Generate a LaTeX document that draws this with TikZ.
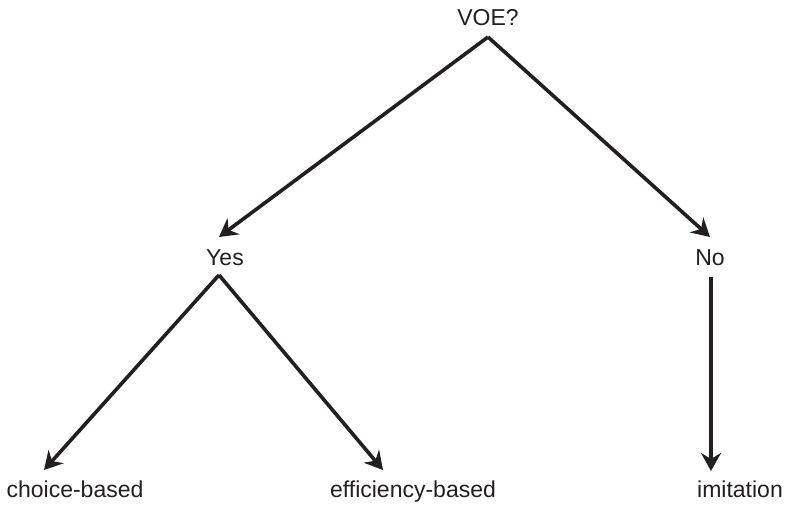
\documentclass[tikz,border=0pt]{standalone}
\usepackage{fontspec}
\setmainfont{Liberation Sans}
\usetikzlibrary{arrows.meta}
\definecolor{ink}{HTML}{231F20}
\begin{document}
\begin{tikzpicture}[x=1pt,y=-1pt,
  lbl/.style={anchor=base,inner sep=0pt,text=ink,font=\fontsize{23}{27}\selectfont},
  conn/.style={draw=ink,line width=3.6pt,-{Stealth[length=18pt,width=20pt,inset=6pt]}}]
\useasboundingbox (0,0) rectangle (785,504);
\node[lbl] (voe) at (488,25) {VOE?};
\node[lbl] (yes) at (225,265) {Yes};
\node[lbl] (no) at (710,265) {No};
\node[lbl] (choice) at (75,497) {choice-based};
\node[lbl] (eff) at (413,497) {efficiency-based};
\node[lbl] (imit) at (740,497) {imitation};
\coordinate (voeapex) at (488,37);
\coordinate (yestip) at (219,237);
\coordinate (notip) at (710,237);
\coordinate (yesapex) at (219,275);
\coordinate (choicetip) at (44,470);
\coordinate (efftip) at (383,470);
\coordinate (nostart) at (711,277);
\coordinate (imittip) at (711,471);
\draw[conn] (voeapex) -- (yestip);
\draw[conn] (voeapex) -- (notip);
\draw[conn] (yesapex) -- (choicetip);
\draw[conn] (yesapex) -- (efftip);
\draw[conn] (nostart) -- (imittip);
\end{tikzpicture}
\end{document}
